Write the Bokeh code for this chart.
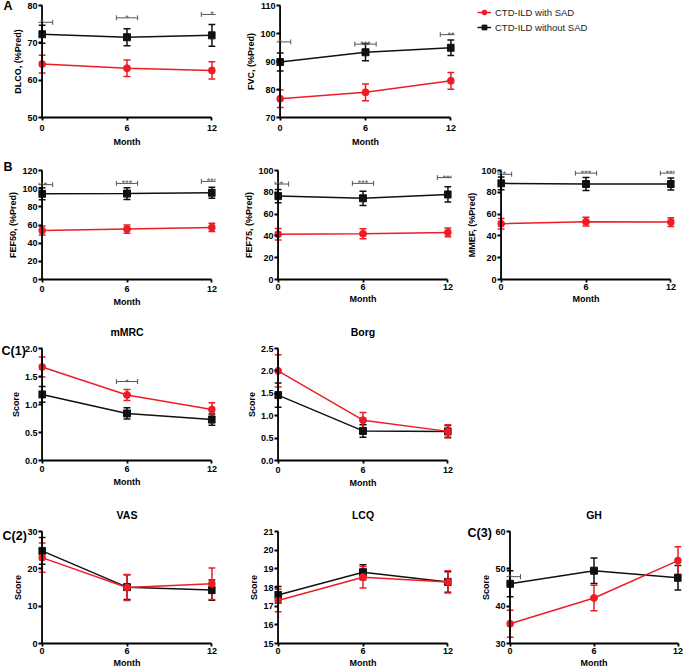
from bokeh.plotting import figure
from bokeh.layouts import column, row
from bokeh.models import (ColumnDataSource, Range1d, FixedTicker, Whisker, TeeHead,
                          LabelSet, Label, Legend, LegendItem, PrintfTickFormatter, Span)
from bokeh.core.properties import value
from bokeh.embed import file_html
from bokeh.resources import INLINE

# ---------------- data ----------------
months = [0, 6, 12]

dlco_sad = [64.3, 63.2, 62.6]
dlco_sad_err = [2.4, 2.2, 2.3]
dlco_nosad = [72.3, 71.5, 72.0]
dlco_nosad_err = [2.4, 2.3, 2.9]
dlco_sig_y = [75.5, 76.7, 77.6]
dlco_sig = ["*", "*", "*"]

fvc_sad = [76.7, 79.0, 83.1]
fvc_sad_err = [3.1, 3.0, 3.0]
fvc_nosad = [89.8, 93.3, 94.9]
fvc_nosad_err = [3.2, 3.0, 2.8]
fvc_sig_y = [97.0, 96.2, 99.6]
fvc_sig = ["*", "***", "**"]

fef50_sad = [54.0, 55.5, 57.3]
fef50_sad_err = [5.0, 4.5, 4.5]
fef50_nosad = [94.4, 94.6, 95.5]
fef50_nosad_err = [6.5, 6.5, 6.0]
fef50_sig_y = [104.4, 105.8, 108.0]
fef50_sig = ["***", "***", "***"]

fef75_sad = [41.5, 42.0, 43.2]
fef75_sad_err = [5.3, 4.5, 4.0]
fef75_nosad = [76.5, 74.5, 78.0]
fef75_nosad_err = [6.0, 6.5, 7.0]
fef75_sig_y = [87.6, 88.2, 93.5]
fef75_sig = ["***", "***", "***"]

mmef_sad = [51.2, 53.0, 52.7]
mmef_sad_err = [4.8, 4.0, 4.0]
mmef_nosad = [88.2, 87.6, 87.6]
mmef_nosad_err = [5.8, 6.0, 5.5]
mmef_sig_y = [96.5, 97.6, 97.6]
mmef_sig = ["***", "***", "***"]

mmrc_sad = [1.67, 1.17, 0.91]
mmrc_sad_err = [0.18, 0.10, 0.12]
mmrc_nosad = [1.18, 0.84, 0.73]
mmrc_nosad_err = [0.14, 0.10, 0.10]
mmrc_sig_x = [6]
mmrc_sig_y = [1.41]
mmrc_sig = ["*"]

borg_sad = [2.0, 0.90, 0.65]
borg_sad_err = [0.36, 0.17, 0.15]
borg_nosad = [1.46, 0.66, 0.65]
borg_nosad_err = [0.27, 0.14, 0.13]

vas_sad = [23.0, 15.0, 16.0]
vas_sad_err = [3.9, 3.5, 4.2]
vas_nosad = [24.8, 15.1, 14.3]
vas_nosad_err = [3.6, 3.3, 2.7]

lcq_sad = [17.3, 18.55, 18.3]
lcq_sad_err = [0.6, 0.58, 0.6]
lcq_nosad = [17.6, 18.82, 18.3]
lcq_nosad_err = [0.45, 0.40, 0.55]

gh_sad = [35.3, 42.2, 52.2]
gh_sad_err = [3.6, 3.4, 3.7]
gh_nosad = [46.0, 49.5, 47.6]
gh_nosad_err = [3.5, 3.4, 3.3]
gh_sig_x = [0]
gh_sig_y = [47.9]
gh_sig = ["*"]

series_labels = ["CTD-ILD with SAD", "CTD-ILD without SAD"]
panel_letters = ["A", "B", "C(1)", "C(2)", "C(3)"]

# ---------------- style / layout ----------------
W, H = 685, 671
R = 0.25
RED = "#ee1c25"
BLK = "#111111"
GRY = "#555555"
FONT = "Liberation Sans"


def make_panel(col, band, axis_x, frame_y, y_range, y_ticks, y_label,
               sad, sad_err, nosad, nosad_err, sig=None, title=None, fmt=None,
               xs=(1, 1)):
    cl, cr = col
    rt, rb = band
    a0, a12 = axis_x
    ft, fb = frame_y
    width = cr - cl
    height = rb - rt
    unit = (a12 - a0) / 12.0
    pad = R * unit
    bl = int(round(a0 - pad - cl))
    fw = int(round(unit * (12 + 2 * R)))
    br = max(width - bl - fw, 0)
    bt = ft - rt
    fh = fb - ft
    bb = height - bt - fh
    p = figure(width=width, height=height, x_range=Range1d(-R, 12 + R),
               y_range=Range1d(*y_range), output_backend="svg",
               toolbar_location=None, min_border_left=bl, min_border_right=br,
               min_border_top=bt, min_border_bottom=bb,
               title=title if title else None)
    p.xaxis.ticker = FixedTicker(ticks=months)
    p.xaxis.bounds = (0, 12)
    p.xaxis.axis_label = "Month"
    p.xaxis.major_tick_out = 3
    p.xaxis.major_tick_in = 0
    p.yaxis.ticker = FixedTicker(ticks=y_ticks)
    p.yaxis.axis_label = y_label
    p.yaxis.axis_line_color = None
    p.yaxis.major_tick_out = 0
    p.yaxis.major_tick_in = int(round(pad))
    if fmt:
        p.yaxis.formatter = PrintfTickFormatter(format=fmt)
    p.axis.axis_line_width = 1.8
    p.xaxis.axis_line_color = "black"
    p.axis.major_tick_line_width = 1.8
    p.axis.major_tick_line_color = "black"
    p.axis.minor_tick_line_color = None
    p.axis.major_label_text_font = FONT
    p.axis.major_label_text_font_style = "bold"
    p.axis.major_label_text_font_size = "9px"
    p.axis.major_label_text_color = "black"
    p.axis.axis_label_text_font = FONT
    p.axis.axis_label_text_font_style = "bold"
    p.axis.axis_label_text_font_size = "9px"
    p.axis.axis_label_text_color = "black"
    p.yaxis.major_label_standoff = 1
    p.yaxis.axis_label_standoff = 1
    p.xaxis.major_label_standoff = xs[0]
    p.xaxis.axis_label_standoff = xs[1]
    p.xgrid.visible = False
    p.ygrid.visible = False
    p.outline_line_color = None
    p.background_fill_color = None
    p.border_fill_color = None
    # y-axis line drawn at month 0
    p.add_layout(Span(location=0, dimension="height", line_color="black",
                      line_width=1.8))

    if title:
        p.title.align = "center"
        p.title.text_font = FONT
        p.title.text_font_size = "10.5px"
        p.title.text_font_style = "bold"
        p.title.text_color = "black"
        p.title.standoff = 21

    def series(vals, errs, color, marker):
        lo = [v - e for v, e in zip(vals, errs)]
        hi = [v + e for v, e in zip(vals, errs)]
        src = ColumnDataSource(dict(x=months, y=vals, lo=lo, hi=hi))
        p.line("x", "y", source=src, line_color=color, line_width=1.5)
        p.add_layout(Whisker(source=src, base="x", lower="lo", upper="hi",
                             line_color=color, line_width=1.5,
                             upper_head=TeeHead(size=7, line_color=color, line_width=1.5),
                             lower_head=TeeHead(size=7, line_color=color, line_width=1.5)))
        p.scatter("x", "y", source=src, marker=marker, size=7,
                  fill_color=color, line_color=color)

    series(nosad, nosad_err, BLK, "square")
    series(sad, sad_err, RED, "circle")

    if sig:
        sx, sy, st = sig
        ssrc = ColumnDataSource(dict(x=sx, y=sy,
                                     x0=[v - 0.75 for v in sx],
                                     x1=[v + 0.75 for v in sx], t=st))
        p.add_layout(Whisker(source=ssrc, dimension="width", base="y",
                             lower="x0", upper="x1", line_color=GRY, line_width=1,
                             upper_head=TeeHead(size=5, line_color=GRY, line_width=1),
                             lower_head=TeeHead(size=5, line_color=GRY, line_width=1)))
        p.add_layout(LabelSet(source=ssrc, x="x", y="y", text="t",
                              text_align="center", text_baseline="alphabetic",
                              y_offset=-3, text_font=value(FONT),
                              text_font_size="9px", text_color=GRY))
    return p


ROW1 = (0, 158)
ROW2 = (158, 310)
ROW3 = (310, 492)
ROW4 = (492, 671)

a1 = make_panel((0, 230), ROW1, (42, 212), (5, 118), (50, 80), [50, 60, 70, 80],
                "DLCO, (%Pred)", dlco_sad, dlco_sad_err, dlco_nosad, dlco_nosad_err,
                sig=(months, dlco_sig_y, dlco_sig), xs=(4, 3))
a2 = make_panel((230, 460), ROW1, (280, 451), (5, 117), (70, 110), [70, 80, 90, 100, 110],
                "FVC, (%Pred)", fvc_sad, fvc_sad_err, fvc_nosad, fvc_nosad_err,
                sig=(months, fvc_sig_y, fvc_sig), xs=(4, 3))

# legend panel (proxy renderers of the DLCO series, kept outside the visible range)
leg = figure(width=W - 460, height=ROW1[1] - ROW1[0],
             x_range=Range1d(-2, -1), y_range=Range1d(0, 1),
             x_axis_type=None, y_axis_type=None, output_backend="svg",
             toolbar_location=None, title=None, min_border=0,
             min_border_left=16, min_border_right=0,
             min_border_top=0, min_border_bottom=0)
leg.outline_line_color = None
leg.background_fill_color = None
leg.border_fill_color = None
l1 = leg.line(months, dlco_sad, line_color=RED, line_width=1.5)
s1 = leg.scatter(months, dlco_sad, marker="circle", size=6, fill_color=RED, line_color=RED)
l2 = leg.line(months, dlco_nosad, line_color=BLK, line_width=1.5)
s2 = leg.scatter(months, dlco_nosad, marker="square", size=6, fill_color=BLK, line_color=BLK)
legend = Legend(items=[LegendItem(label=series_labels[0], renderers=[l1, s1]),
                       LegendItem(label=series_labels[1], renderers=[l2, s2])],
                location="top_left", margin=1, padding=0, spacing=3,
                title_standoff=0,
                glyph_width=14, glyph_height=12, label_height=12,
                label_standoff=4, label_text_font=FONT,
                label_text_font_size="9.5px", label_text_color="#222222",
                border_line_color=None, background_fill_alpha=0)
leg.add_layout(legend)

b1 = make_panel((0, 235), ROW2, (42, 212), (166, 279), (0, 120), [0, 20, 40, 60, 80, 100, 120],
                "FEF50, (%Pred)", fef50_sad, fef50_sad_err, fef50_nosad, fef50_nosad_err,
                sig=(months, fef50_sig_y, fef50_sig), xs=(3, 2))
b2 = make_panel((235, 458), ROW2, (278, 448), (170, 283), (0, 100), [0, 20, 40, 60, 80, 100],
                "FEF75, (%Pred)", fef75_sad, fef75_sad_err, fef75_nosad, fef75_nosad_err,
                sig=(months, fef75_sig_y, fef75_sig), xs=(1, 1))
b3 = make_panel((458, 685), ROW2, (501, 671), (170, 283), (0, 100), [0, 20, 40, 60, 80, 100],
                "MMEF, (%Pred)", mmef_sad, mmef_sad_err, mmef_nosad, mmef_nosad_err,
                sig=(months, mmef_sig_y, mmef_sig), xs=(1, 1))

c1 = make_panel((0, 235), ROW3, (42, 212), (348, 462), (0, 2.0), [0, 0.5, 1.0, 1.5, 2.0],
                "Score", mmrc_sad, mmrc_sad_err, mmrc_nosad, mmrc_nosad_err,
                sig=(mmrc_sig_x, mmrc_sig_y, mmrc_sig), title="mMRC", fmt="%.1f",
                xs=(2, 2))
c2 = make_panel((235, 685), ROW3, (278, 448), (347, 460), (0, 2.5), [0, 0.5, 1.0, 1.5, 2.0, 2.5],
                "Score", borg_sad, borg_sad_err, borg_nosad, borg_nosad_err,
                title="Borg", fmt="%.1f", xs=(3, 2))

d1 = make_panel((0, 235), ROW4, (42, 212), (531, 644), (0, 30), [0, 10, 20, 30],
                "Score", vas_sad, vas_sad_err, vas_nosad, vas_nosad_err, title="VAS")
d2 = make_panel((235, 458), ROW4, (278, 448), (531, 644), (15, 21), [15, 16, 17, 18, 19, 20, 21],
                "Score", lcq_sad, lcq_sad_err, lcq_nosad, lcq_nosad_err, title="LCQ")
d3 = make_panel((458, 685), ROW4, (510, 678), (530, 643), (30, 60), [30, 40, 50, 60],
                "Score", gh_sad, gh_sad_err, gh_nosad, gh_nosad_err,
                sig=(gh_sig_x, gh_sig_y, gh_sig), title="GH")

# full-page transparent overlay carrying the panel letters (pixel coordinates, y down)
ov = figure(width=W, height=H, x_range=Range1d(0, W), y_range=Range1d(H, 0),
            x_axis_type=None, y_axis_type=None, output_backend="svg",
            toolbar_location=None, title=None, min_border=0,
            min_border_left=0, min_border_right=0, min_border_top=0,
            min_border_bottom=0, margin=(0, 0, -H, 0))
ov.outline_line_color = None
ov.background_fill_color = None
ov.border_fill_color = None
letter_pos = [(3, -2), (3, 159), (1, 343), (2, 528), (467, 525)]
for txt, (lx, ly) in zip(panel_letters, letter_pos):
    ov.add_layout(Label(x=lx, y=ly, text=txt, text_font=FONT,
                        text_font_size="12.5px", text_font_style="bold",
                        text_baseline="top", text_align="left",
                        text_color="black"))

layout = column(ov, row(a1, a2, leg), row(b1, b2, b3), row(c1, c2),
                row(d1, d2, d3))

open("out.html", "w").write(file_html(layout, INLINE, "chart"))
